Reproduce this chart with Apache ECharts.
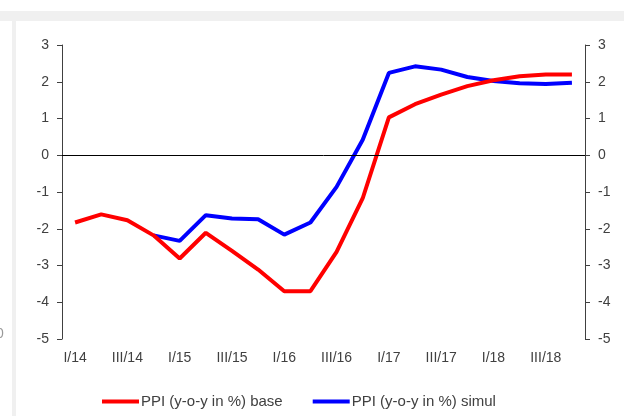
<!DOCTYPE html>
<html>
<head>
<meta charset="utf-8">
<script src="https://cdn.jsdelivr.net/npm/echarts@6/dist/echarts.min.js"></script>
<style>
  html, body { margin: 0; padding: 0; background: #fff; }
  #main { width: 624px; height: 416px; }
</style>
</head>
<body>
<div id="main"></div>
<script>
// quarters I/14 .. IV/18
var quarters = [
    'I/14', 'II/14', 'III/14', 'IV/14',
    'I/15', 'II/15', 'III/15', 'IV/15',
    'I/16', 'II/16', 'III/16', 'IV/16',
    'I/17', 'II/17', 'III/17', 'IV/17',
    'I/18', 'II/18', 'III/18', 'IV/18'
];
var ppiBase = [-1.83, -1.61, -1.77, -2.18, -2.81, -2.11, -2.60, -3.11, -3.70, -3.70,
    -2.63, -1.17, 1.03, 1.39, 1.65, 1.88, 2.04, 2.15, 2.20, 2.20];
var ppiSimul = [null, null, null, -2.18, -2.33, -1.63, -1.72, -1.74, -2.16, -1.83,
    -0.86, 0.42, 2.24, 2.42, 2.33, 2.13, 2.02, 1.96, 1.94, 1.97];
var seriesNames = ['PPI (y-o-y in %) base', 'PPI (y-o-y in %) simul'];

var font = 'Liberation Sans, Arial, sans-serif';
var textColor = '#404040';

function valueAxis(pos) {
    return {
        type: 'value',
        position: pos,
        min: -5,
        max: 3,
        interval: 1,
        axisLine: { show: true, lineStyle: { color: '#404040', width: 1 } },
        axisTick: { show: true, inside: false, length: 5, lineStyle: { color: '#404040' } },
        axisLabel: { color: textColor, fontFamily: font, fontSize: 14, margin: 13 },
        splitLine: { show: false }
    };
}

var myChart = echarts.init(document.getElementById('main'));
var option = {
    backgroundColor: '#fff',
    animation: false,
    grid: { left: 62, right: 39, top: 45, bottom: 77 },
    graphic: [
        // frame bits of the surrounding page
        { type: 'rect', shape: { x: 0, y: 11, width: 624, height: 10 }, style: { fill: '#f0f0f0' } },
        { type: 'rect', shape: { x: 12, y: 21, width: 4, height: 395 }, style: { fill: '#f0f0f0' } },
        { type: 'text', x: -4, y: 327, style: { text: '0', fill: '#999', font: '14px Liberation Sans' } }
    ],
    legend: {
        left: 97,
        top: 389,
        icon: 'rect',
        itemWidth: 37,
        itemHeight: 4,
        itemGap: 30,
        textStyle: { color: textColor, fontFamily: font, fontSize: 15, padding: [0, 0, 0, -3] },
        data: seriesNames
    },
    xAxis: {
        type: 'category',
        data: quarters,
        boundaryGap: true,
        axisLine: { show: false },
        axisTick: { show: false },
        axisLabel: { color: textColor, fontFamily: font, fontSize: 14, interval: 1, margin: 12 }
    },
    yAxis: [valueAxis('left'), valueAxis('right')],
    series: [
        {
            name: seriesNames[0],
            type: 'line',
            data: ppiBase,
            symbol: 'none',
            color: '#ff0000',
            lineStyle: { width: 4, color: '#ff0000' },
            z: 3,
            markLine: {
                silent: true,
                symbol: 'none',
                label: { show: false },
                lineStyle: { color: '#000', width: 1, type: 'solid' },
                data: [{ yAxis: 0 }]
            }
        },
        {
            name: seriesNames[1],
            type: 'line',
            data: ppiSimul,
            symbol: 'none',
            color: '#0000ff',
            lineStyle: { width: 4, color: '#0000ff' },
            z: 2
        }
    ]
};
option && myChart.setOption(option);
</script>
</body>
</html>
